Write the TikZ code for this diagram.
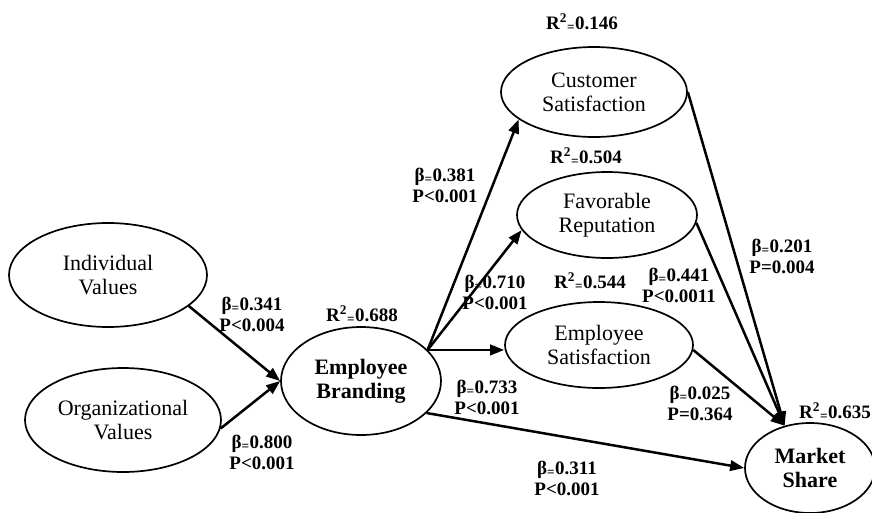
\documentclass[tikz,border=0pt]{standalone}
\usepackage{fontspec}
\setmainfont{Liberation Serif}
\usetikzlibrary{shapes.geometric,arrows.meta}
\newcommand\coef[2]{β\textsubscript{=}#1\\P#2}
\newcommand\rsq[1]{R\textsuperscript{2}\textsubscript{=}#1}
\begin{document}
\begin{tikzpicture}[x=1pt, y=-1pt,
        V/.style = {ellipse, draw, line width=1.7pt, inner sep=0pt,
                    align=center, font=\fontsize{22}{24}\selectfont},
        A/.style = {line width=2.5pt, -{Triangle[length=14pt,width=10.5pt]}},
        L/.style = {align=center, inner sep=0pt,
                    font=\bfseries\fontsize{19}{21}\selectfont}
                    ]
    \useasboundingbox (0,0) rectangle (872,512);
    % constructs
    \node[V, minimum width=198pt, minimum height=104pt] (indiv)  at (108,275) {Individual\\Values};
    \node[V, minimum width=196pt, minimum height=104pt] (org)    at (123,420) {Organizational\\Values};
    \node[V, minimum width=160pt, minimum height=108pt,
          font=\bfseries\fontsize{22}{24}\selectfont]   (brand)  at (361,381) {Employee\\Branding};
    \node[V, minimum width=186pt, minimum height=90pt]  (cust)   at (594,92)  {Customer\\Satisfaction};
    \node[V, minimum width=180pt, minimum height=86pt]  (rep)    at (607,215) {Favorable\\Reputation};
    \node[V, minimum width=188pt, minimum height=86pt]  (empsat) at (599,345) {Employee\\Satisfaction};
    \node[V, minimum width=130pt, minimum height=90pt,
          font=\bfseries\fontsize{22}{24}\selectfont]   (market) at (810,468) {Market\\Share};

    % paths
    \draw[A] (indiv.-21) -- (brand.west);
    \draw[A] (org.-5)    -- (brand.west);
    \draw[A] (brand.25)  -- (cust.200);
    \draw[A] (brand.25)  -- (rep.190);
    \draw[A] (brand.25)  -- (empsat.west |- brand.25);
    \draw[A] (brand.-26) -- (market.west);
    \draw[A] (cust.east) -- (market.121);
    \draw[A] (rep.-5)    -- (market.121);
    \draw[A] (empsat.-3) -- (market.121);

    % explained variance
    \node[L] (rCust)   at (582,23)  {\rsq{0.146}};
    \node[L] (rRep)    at (586,157) {\rsq{0.504}};
    \node[L] (rEmp)    at (590,282) {\rsq{0.544}};
    \node[L] (rBrand)  at (362,315) {\rsq{0.688}};
    \node[L] (rMarket) at (835,412) {\rsq{0.635}};

    % path coefficients
    \node[L] (bIndiv)  at (252,314) {\coef{0.341}{<0.004}};
    \node[L] (bOrg)    at (262,452) {\coef{0.800}{<0.001}};
    \node[L] (bCust)   at (445,185) {\coef{0.381}{<0.001}};
    \node[L] (bRep)    at (495,292) {\coef{0.710}{<0.001}};
    \node[L] (bEmp)    at (487,397) {\coef{0.733}{<0.001}};
    \node[L] (bMarket) at (567,478) {\coef{0.311}{<0.001}};
    \node[L] (bCustM)  at (782,256) {\coef{0.201}{=0.004}};
    \node[L] (bRepM)   at (679,285) {\coef{0.441}{<0.0011}};
    \node[L] (bEmpM)   at (700,403) {\coef{0.025}{=0.364}};
\end{tikzpicture}
\end{document}
